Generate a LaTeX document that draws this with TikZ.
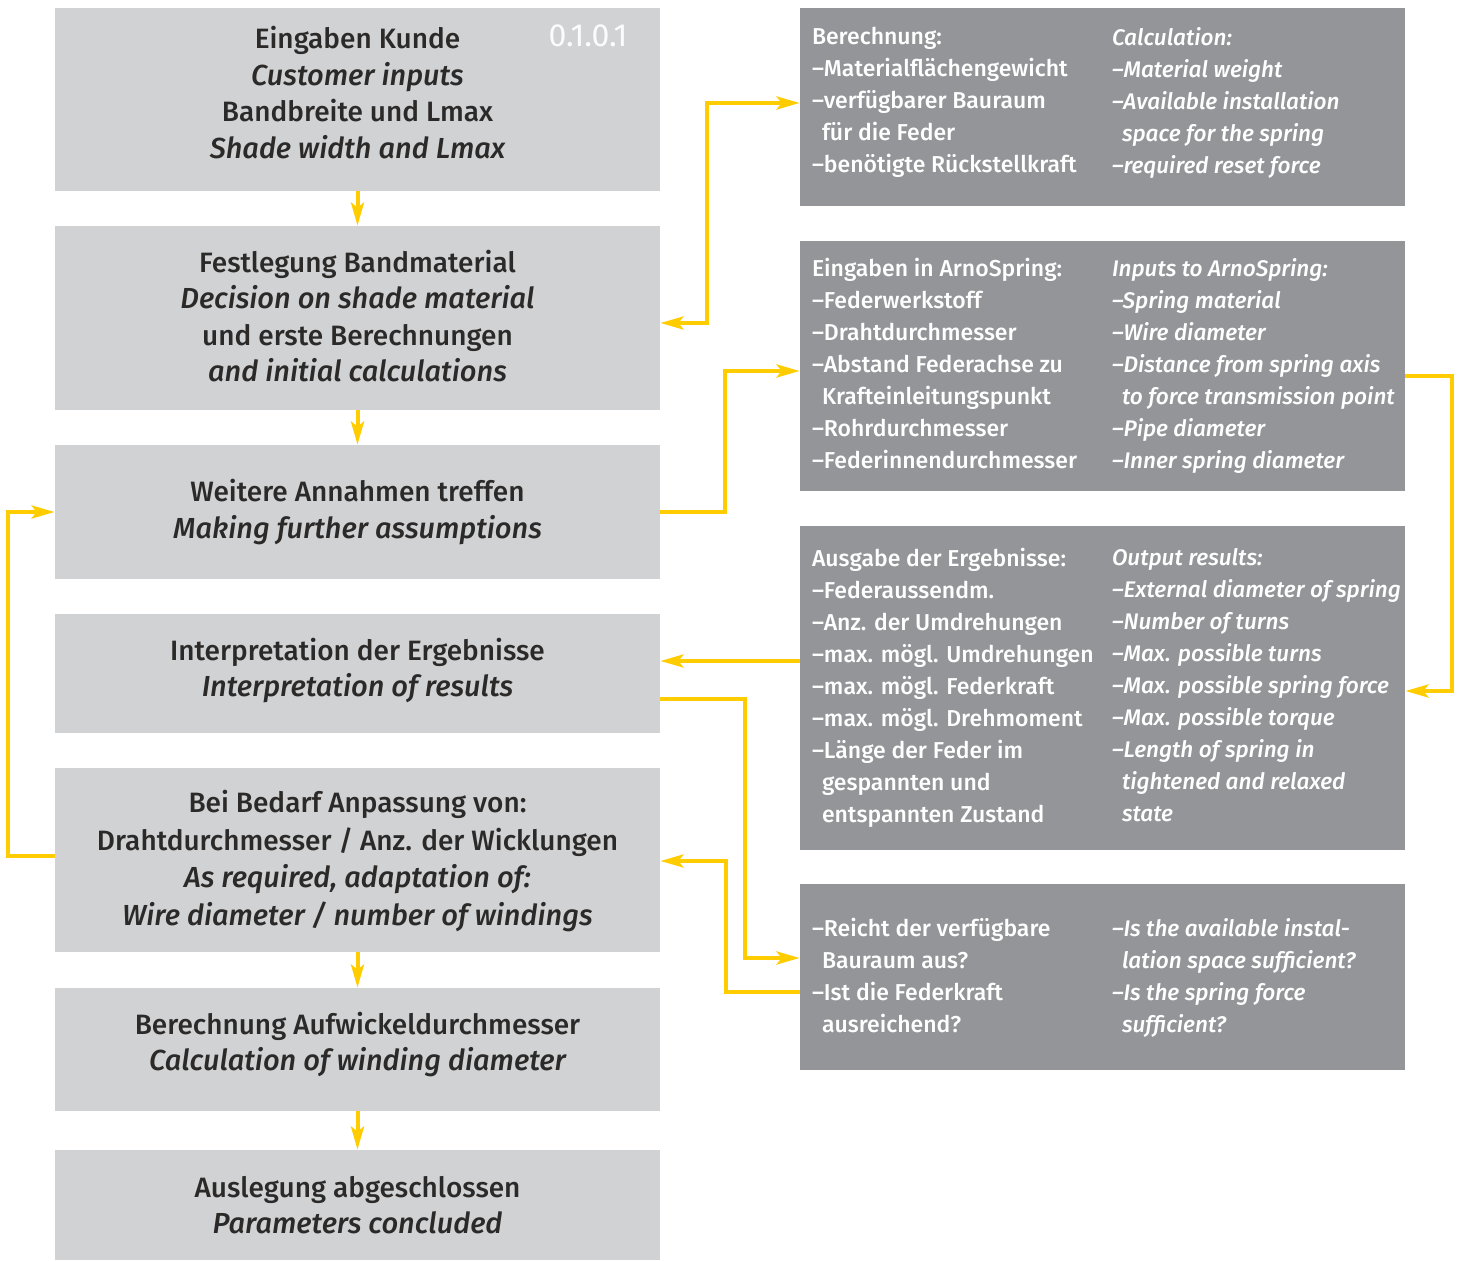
\documentclass[tikz,border=0pt]{standalone}
\usepackage{fontspec}
\setmainfont{Fira Sans}
\newfontfamily\headfont{Fira Sans}[UprightFont={* Medium},ItalicFont={* Medium Italic}]
\usetikzlibrary{arrows.meta,calc}
\definecolor{boxlight}{HTML}{D1D2D4}
\definecolor{boxdark}{HTML}{939598}
\definecolor{flow}{HTML}{FFCC00}
\definecolor{ink}{HTML}{2B2A29}
\tikzset{
  stepbox/.style={fill=boxlight, minimum width=302.5pt, inner sep=0pt},
  steptext/.style={inner sep=0pt, align=center, text=ink,
    font=\headfont\fontsize{14}{18.3}\selectfont},
  infobox/.style={fill=boxdark, minimum width=302.5pt, inner sep=0pt},
  infotext/.style={anchor=north west, inner sep=0pt, align=left, text=white,
    font=\headfont\fontsize{11.5}{16}\selectfont},
  infotextit/.style={infotext, font=\headfont\itshape\fontsize{11.3}{16}\selectfont},
  tip/.tip={Stealth[length=11.5pt,width=6.5pt,inset=2.5pt]},
  flowline/.style={draw=flow, line width=2pt, -tip},
  flowboth/.style={draw=flow, line width=2pt, tip-tip},
}
\newcommand{\ind}{\hspace*{5pt}}
\newcommand{\en}[1]{{\itshape\fontsize{14.5}{18.3}\selectfont #1}}
\begin{document}
\begin{tikzpicture}[x=0.5pt,y=-0.5pt]
\useasboundingbox (0,0) rectangle (1462,1261);

% process steps (left column)
\node[stepbox, minimum height=91.5pt] (b1) at (357.5,99.5) {};
\node[stepbox, minimum height=92pt]   (b2) at (357.5,318) {};
\node[stepbox, minimum height=67pt]   (b3) at (357.5,512) {};
\node[stepbox, minimum height=59.5pt] (b4) at (357.5,673.5) {};
\node[stepbox, minimum height=92pt]   (b5) at (357.5,860) {};
\node[stepbox, minimum height=61.5pt] (b6) at (357.5,1049.5) {};
\node[stepbox, minimum height=55pt]   (b7) at (357.5,1205) {};

\node[steptext] (b1t) at ($(b1)+(0,-7)$)
  {Eingaben Kunde\\\en{Customer inputs}\\Bandbreite und Lmax\\\en{Shade width and Lmax}};
\node[steptext] (b2t) at ($(b2)+(0,-2)$)
  {Festlegung Bandmaterial\\\en{Decision on shade material}\\und erste Berechnungen\\\en{and initial calculations}};
\node[steptext] (b3t) at (b3)
  {Weitere Annahmen treffen\\\en{Making further assumptions}};
\node[steptext] (b4t) at ($(b4)+(0,-3)$)
  {Interpretation der Ergebnisse\\\en{Interpretation of results}};
\node[steptext, font=\headfont\fontsize{14}{18.9}\selectfont] (b5t) at ($(b5)+(0,1)$)
  {Bei Bedarf Anpassung von:\\Drahtdurchmesser / Anz. der Wicklungen\\\en{As required, adaptation of:}\\\en{Wire diameter / number of windings}};
\node[steptext] (b6t) at ($(b6)+(0,-5)$)
  {Berechnung Aufwickeldurchmesser\\\en{Calculation of winding diameter}};
\node[steptext] (b7t) at (b7)
  {Auslegung abgeschlossen\\\en{Parameters concluded}};
\node[text=white!94!boxlight, font=\fontsize{16}{18}\selectfont, inner sep=0pt] (ver) at (588,36) {0.1.0.1};

% information panels (right column)
\node[infobox, minimum height=99pt]  (r1) at (1102.5,107) {};
\node[infobox, minimum height=125pt] (r2) at (1102.5,366) {};
\node[infobox, minimum height=162pt] (r3) at (1102.5,688) {};
\node[infobox, minimum height=93pt]  (r4) at (1102.5,977) {};

\node[infotext] (r1de) at ($(r1.north west)+(12,19)$)
  {Berechnung:\\–Materialflächengewicht\\–verfügbarer Bauraum\\\ind für die Feder\\–benötigte Rückstellkraft};
\node[infotextit] (r1en) at ($(r1.north west)+(312,19)$)
  {Calculation:\\–Material weight\\–Available installation\\\ind space for the spring\\–required reset force};

\node[infotext] (r2de) at ($(r2.north west)+(12,17)$)
  {Eingaben in ArnoSpring:\\–Federwerkstoff\\–Drahtdurchmesser\\–Abstand Federachse zu\\\ind Krafteinleitungspunkt\\–Rohrdurchmesser\\–Federinnendurchmesser};
\node[infotextit] (r2en) at ($(r2.north west)+(312,17)$)
  {Inputs to ArnoSpring:\\–Spring material\\–Wire diameter\\–Distance from spring axis\\\ind to force transmission point\\–Pipe diameter\\–Inner spring diameter};

\node[infotext] (r3de) at ($(r3.north west)+(12,22)$)
  {Ausgabe der Ergebnisse:\\–Federaussendm.\\–Anz. der Umdrehungen\\–max. mögl. Umdrehungen\\–max. mögl. Federkraft\\–max. mögl. Drehmoment\\–Länge der Feder im\\\ind gespannten und\\\ind entspannten Zustand};
\node[infotextit] (r3en) at ($(r3.north west)+(312,22)$)
  {Output results:\\–External diameter of spring\\–Number of turns\\–Max. possible turns\\–Max. possible spring force\\–Max. possible torque\\–Length of spring in\\\ind tightened and relaxed\\\ind state};

\node[infotext] (r4de) at ($(r4.north west)+(12,34)$)
  {–Reicht der verfügbare\\\ind Bauraum aus?\\–Ist die Federkraft\\\ind ausreichend?};
\node[infotextit] (r4en) at ($(r4.north west)+(312,34)$)
  {–Is the available instal-\\\ind lation space sufficient?\\–Is the spring force\\\ind sufficient?};

% main sequence
\draw[flowline] (b1.south) -- (b2.north);
\draw[flowline] (b2.south) -- (b3.north);
\draw[flowline] (b5.south) -- (b6.north);
\draw[flowline] (b6.south) -- (b7.north);

% links between steps and panels
\draw[flowboth] ($(b2.east)+(0,5)$) -- ++(47,0) |- ($(r1.west)+(0,-4)$);
\draw[flowline] (b3.east) -- ++(65,0) |- ($(r2.west)+(0,5)$);
\draw[flowline] ($(r2.east)+(0,10)$) -- ++(47,0) |- ($(r3.east)+(0,3)$);
\draw[flowline] ($(r3.west)+(0,-27)$) coordinate (r3out) -- (r3out -| b4.east);
\draw[flowline] ($(b4.east)+(0,25.5)$) -- ++(85,0) |- ($(r4.west)+(0,-19)$);
\draw[flowline] ($(r4.west)+(0,15)$) -- ++(-74,0) |- ($(b5.east)+(0,1)$);
\draw[flowline] ($(b5.west)+(0,-4)$) -- ++(-47,0) |- (b3.west);
\end{tikzpicture}
\end{document}
